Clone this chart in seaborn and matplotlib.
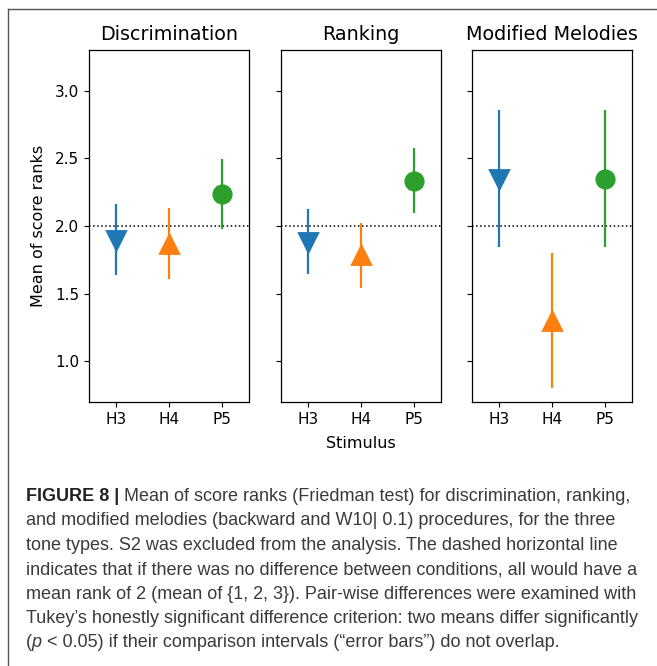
import matplotlib
matplotlib.use("Agg")
import matplotlib.pyplot as plt
from matplotlib.lines import Line2D
import seaborn as sns
import pandas as pd
import numpy as np

# ---- data ----
stimuli = ["H3", "H4", "P5"]
procedures = ["Discrimination", "Ranking", "Modified Melodies"]
means_disc = [1.90, 1.87, 2.235]
means_rank = [1.885, 1.785, 2.335]
means_mm = [2.35, 1.30, 2.35]
err_disc = [0.265, 0.26, 0.26]
err_rank = [0.24, 0.24, 0.24]
err_mm = [0.505, 0.50, 0.505]
yticks = [1.0, 1.5, 2.0, 2.5, 3.0]

all_means = [means_disc, means_rank, means_mm]
all_errs = [err_disc, err_rank, err_mm]

colors = ["#1f77b4", "#ff7f0e", "#2ca02c"]
markers = ["v", "^", "o"]

plt.rcParams["font.family"] = ["DejaVu Sans"]

W, H = 657, 666
fig = plt.figure(figsize=(W / 100, H / 100), dpi=100)

def fx(px):
    return px / W

def fy(py):
    return 1 - py / H

ax_lefts = [89, 281, 472]
ax_w = 160
ax_top, ax_bot = 50, 402
axes = []
for i, left in enumerate(ax_lefts):
    ax = fig.add_axes([fx(left), fy(ax_bot), ax_w / W, (ax_bot - ax_top) / H])
    axes.append(ax)

for i, ax in enumerate(axes):
    df = pd.DataFrame({"Stimulus": stimuli, "mean": all_means[i], "err": all_errs[i]})
    lo = np.array(all_means[i]) - np.array(all_errs[i])
    hi = np.array(all_means[i]) + np.array(all_errs[i])
    ax.vlines(np.arange(len(stimuli)), lo, hi, colors=colors, lw=1.6, zorder=2)
    sns.pointplot(data=df, x="Stimulus", y="mean", hue="Stimulus", order=stimuli,
                  hue_order=stimuli, palette=colors, markers=markers,
                  linestyles="none", errorbar=None, legend=False, ax=ax,
                  markersize=12.5, zorder=3)
    ax.axhline(2.0, color="black", ls=":", lw=1.1, zorder=1)
    ax.set_xlim(-0.5, 2.5)
    ax.set_ylim(0.7, 3.3)
    ax.set_yticks(yticks)
    ax.set_title(procedures[i], fontsize=13.8, pad=7, family="DejaVu Sans")
    ax.tick_params(labelsize=11)
    for lab in ax.get_xticklabels() + ax.get_yticklabels():
        lab.set_family("DejaVu Sans")
    ax.set_xlabel("")
    ax.set_ylabel("")
    if i > 0:
        ax.set_yticklabels([])
    for sp in ax.spines.values():
        sp.set_linewidth(0.9)

axes[0].set_ylabel("Mean of score ranks", fontsize=11.5, family="DejaVu Sans", labelpad=6.2)
axes[1].set_xlabel("Stimulus", fontsize=11.5, family="DejaVu Sans", labelpad=6.5)

# frame lines (top and left)
fig.add_artist(Line2D([fx(8), 1], [fy(9), fy(9)], transform=fig.transFigure,
                      color="#555555", lw=1.0))
fig.add_artist(Line2D([fx(8), fx(8)], [fy(9), 0], transform=fig.transFigure,
                      color="#555555", lw=1.0))

# caption
cap_font = ["Liberation Sans", "DejaVu Sans"]
cap_size = 13.0
cap_color = "#3a3a3a"
x0 = fx(25.5)
base0 = 501
step = 24.4

lines = [
    [("FIGURE 8 |", "bold", "normal", "#222222"),
     (" Mean of score ranks (Friedman test) for discrimination, ranking,", "normal", "normal", cap_color)],
    [("and modified melodies (backward and W10| 0.1) procedures, for the three", "normal", "normal", cap_color)],
    [("tone types. S2 was excluded from the analysis. The dashed horizontal line", "normal", "normal", cap_color)],
    [("indicates that if there was no difference between conditions, all would have a", "normal", "normal", cap_color)],
    [("mean rank of 2 (mean of {1, 2, 3}). Pair-wise differences were examined with", "normal", "normal", cap_color)],
    [("Tukey\u2019s honestly significant difference criterion: two means differ significantly", "normal", "normal", cap_color)],
    [("(", "normal", "normal", cap_color), ("p", "normal", "italic", cap_color),
     (" < 0.05) if their comparison intervals (\u201cerror bars\u201d) do not overlap.", "normal", "normal", cap_color)],
]

for li, segs in enumerate(lines):
    y = fy(base0 + li * step)
    prev = None
    for text, weight, style, col in segs:
        if prev is None:
            prev = fig.text(x0, y, text, fontsize=cap_size, family=cap_font,
                            weight=weight, style=style, color=col,
                            ha="left", va="baseline")
        else:
            prev = axes[0].annotate(text, xy=(1, 0), xycoords=prev,
                                    fontsize=cap_size, family=cap_font,
                                    weight=weight, style=style, color=col,
                                    ha="left", va="bottom", annotation_clip=False)

fig.savefig("out.png", dpi=100)
